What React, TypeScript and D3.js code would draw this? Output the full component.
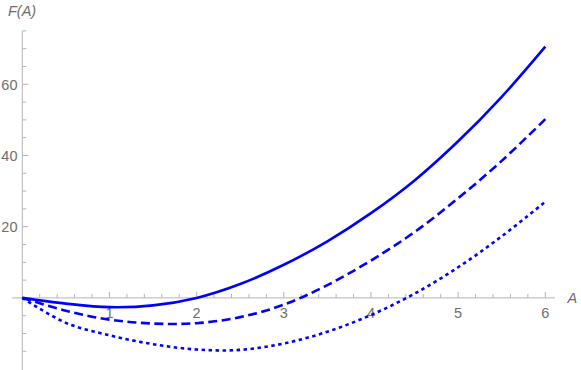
import React, { useRef, useEffect } from 'react';
import * as d3 from 'd3';

// values
const aValues = [0, 0.5, 1, 1.5, 2, 2.5, 3, 3.5, 4, 4.5, 5, 5.5, 6];
const solidValues = [0, -1.6, -2.6, -2.1, 0, 3.9, 9.3, 15.9, 23.8, 33, 44, 56.5, 70.6];
const dashedValues = [0, -3.6, -6.1, -7.2, -7.1, -5.4, -1.9, 3.6, 10.5, 18.5, 28, 38.5, 50.2];
const dottedValues = [0, -7, -10.5, -13, -14.5, -14.6, -12.8, -9.5, -4.8, 1.2, 8.6, 17.3, 27];

const xTickLabels = [1, 2, 3, 4, 5, 6];
const yTickLabels = [20, 40, 60];

const seriesList = [
    { name: 'solid', values: solidValues, dash: null },
    { name: 'dashed', values: dashedValues, dash: '9,4.5' },
    { name: 'dotted', values: dottedValues, dash: '3.5,3.5' },
];

function App() {
    const svgRef = useRef(null);

    useEffect(() => {
        const height = 370;
        const axisColor = '#b4b4b4';
        const labelColor = '#6e6e6e';
        const font = '"Liberation Sans", Arial, sans-serif';

        const svg = d3.select(svgRef.current);
        svg.selectAll('*').remove();

        const x = d3.scaleLinear().domain([0, 6]).range([22.3, 545.3]);
        const y = d3.scaleLinear().domain([0, 60]).range([297.9, 84.3]);

        // x axis line and ticks (pointing up, Mathematica style)
        const gx = svg.append('g');
        gx.append('line')
            .attr('x1', x(-0.118)).attr('x2', 555)
            .attr('y1', y(0)).attr('y2', y(0))
            .attr('stroke', axisColor).attr('stroke-width', 1);

        const xMinor = d3.range(1, 31).map(i => i / 5);
        gx.selectAll('.xtick')
            .data(xMinor)
            .join('line')
            .attr('x1', d => x(d)).attr('x2', d => x(d))
            .attr('y1', y(0))
            .attr('y2', d => y(0) - (Math.abs(d - Math.round(d)) < 1e-6 ? 6 : 4))
            .attr('stroke', axisColor).attr('stroke-width', 1);

        gx.selectAll('.xlabel')
            .data(xTickLabels)
            .join('text')
            .attr('x', d => x(d))
            .attr('y', 317.5)
            .attr('text-anchor', 'middle')
            .style('font-family', font)
            .style('font-size', '14.5px')
            .style('fill', labelColor)
            .text(d => d);

        // y axis line and ticks (pointing right)
        const gy = svg.append('g');
        gy.append('line')
            .attr('x1', x(0)).attr('x2', x(0))
            .attr('y1', 31).attr('y2', height)
            .attr('stroke', axisColor).attr('stroke-width', 1);

        const yMinor = d3.range(-3, 16).map(i => i * 5);
        gy.selectAll('.ytick')
            .data(yMinor)
            .join('line')
            .attr('x1', x(0))
            .attr('x2', d => x(0) + (d % 20 === 0 && d !== 0 ? 6 : 4))
            .attr('y1', d => y(d)).attr('y2', d => y(d))
            .attr('stroke', axisColor).attr('stroke-width', 1);

        gy.selectAll('.ylabel')
            .data(yTickLabels)
            .join('text')
            .attr('x', 17.5)
            .attr('y', d => y(d))
            .attr('dy', '0.36em')
            .attr('text-anchor', 'end')
            .style('font-family', font)
            .style('font-size', '14.5px')
            .style('fill', labelColor)
            .text(d => d);

        // axis titles
        svg.append('text')
            .attr('x', 8)
            .attr('y', 16)
            .style('font-family', font)
            .style('font-size', '14.5px')
            .style('font-style', 'italic')
            .style('fill', labelColor)
            .text('F(A)');

        svg.append('text')
            .attr('x', 567.5)
            .attr('y', 302.7)
            .style('font-family', font)
            .style('font-size', '14.5px')
            .style('font-style', 'italic')
            .style('fill', labelColor)
            .text('A');

        // curves
        const line = d3.line()
            .x((d, i) => x(aValues[i]))
            .y(d => y(d))
            .curve(d3.curveCatmullRom.alpha(0.5));

        svg.selectAll('.curve')
            .data(seriesList)
            .join('path')
            .attr('class', 'curve')
            .attr('d', d => line(d.values))
            .attr('fill', 'none')
            .attr('stroke', '#0000ff')
            .attr('stroke-width', 2.6)
            .attr('stroke-dasharray', d => d.dash);
    }, []);

    return (
        <svg
            ref={svgRef}
            width={581}
            height={370}
            style={{ position: 'absolute', left: 0, top: 0, background: '#fff' }}
        />
    );
}

export default App;
